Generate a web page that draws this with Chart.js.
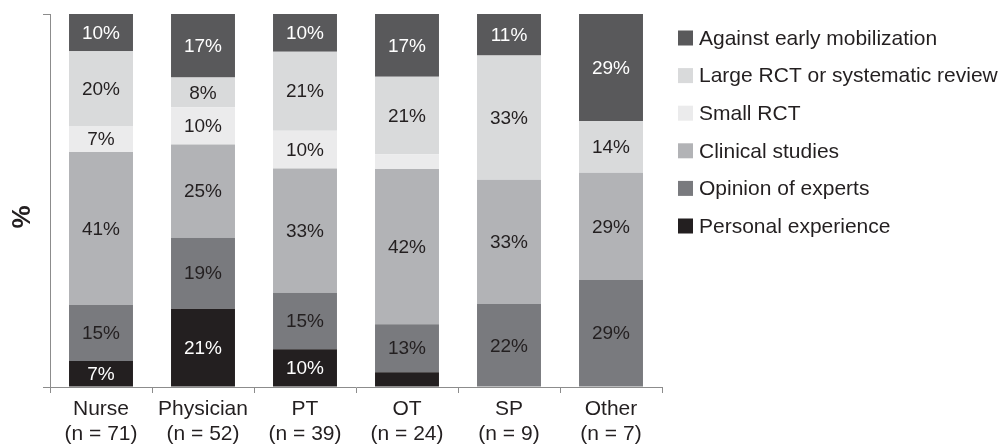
<!DOCTYPE html>
<html>
<head>
<meta charset="utf-8">
<script src="https://cdn.jsdelivr.net/npm/chart.js@4"></script>
<style>
  body { margin: 0; background: #fff; }
  #wrap { width: 1005px; height: 447px; position: relative; }
</style>
</head>
<body>
<div id="wrap"><canvas id="evidenceChart"></canvas></div>
<script>
// Categories (x axis), two lines each
const categories = [
    ['Nurse', '(n = 71)'],
    ['Physician', '(n = 52)'],
    ['PT', '(n = 39)'],
    ['OT', '(n = 24)'],
    ['SP', '(n = 9)'],
    ['Other', '(n = 7)']
];

// Percent values per series, bottom of the stack first
const personalExperience = [7, 21, 10, 4, 0, 0];
const opinionOfExperts   = [15, 19, 15, 13, 22, 29];
const clinicalStudies    = [41, 25, 33, 42, 33, 29];
const smallRct           = [7, 10, 10, 4, 0, 0];
const largeRct           = [20, 8, 21, 21, 33, 14];
const againstEarlyMob    = [10, 17, 10, 17, 11, 29];

const seriesNames = [
    'Personal experience',
    'Opinion of experts',
    'Clinical studies',
    'Small RCT',
    'Large RCT or systematic review',
    'Against early mobilization'
];
const seriesValues = [personalExperience, opinionOfExperts, clinicalStudies, smallRct, largeRct, againstEarlyMob];
const seriesColors = ['#231f20', '#797a7e', '#b2b3b6', '#ebebec', '#d9dadb', '#59595b'];
const labelColors  = ['#ffffff', '#231f20', '#231f20', '#231f20', '#231f20', '#ffffff'];

const FONT = '"Liberation Sans", Arial, sans-serif';
const TEXT = '#231f20';
const AXIS = '#8c8c8c';

// 100% stacked: scale every column to its own total
const totals = categories.map((c, i) => seriesValues.reduce((s, arr) => s + arr[i], 0));

const datasets = seriesNames.map((name, k) => ({
    label: name,
    data: seriesValues[k].map((v, i) => v / totals[i] * 100),
    raw: seriesValues[k],
    backgroundColor: seriesColors[k],
    textColor: labelColors[k],
    borderWidth: 0,
    barPercentage: 1,
    categoryPercentage: 0.627
}));

// Writes the percentage inside each segment
const segmentLabels = {
    id: 'segmentLabels',
    afterDatasetsDraw(chart) {
        const ctx = chart.ctx;
        ctx.save();
        ctx.font = '19px ' + FONT;
        ctx.textAlign = 'center';
        ctx.textBaseline = 'middle';
        chart.data.datasets.forEach((ds, k) => {
            const meta = chart.getDatasetMeta(k);
            meta.data.forEach((bar, i) => {
                const v = ds.raw[i];
                if (v < 5) return;
                ctx.fillStyle = ds.textColor;
                ctx.fillText(v + '%', bar.x, (bar.y + bar.base) / 2 + 1);
            });
        });
        ctx.restore();
    }
};

// Legend on the right, top series first
const sideLegend = {
    id: 'sideLegend',
    afterDraw(chart) {
        const ctx = chart.ctx;
        const list = chart.data.datasets.slice().reverse();
        ctx.save();
        ctx.font = '21px ' + FONT;
        ctx.textBaseline = 'middle';
        ctx.textAlign = 'left';
        list.forEach((ds, i) => {
            const y = 38 + i * 37.6;
            ctx.fillStyle = ds.backgroundColor;
            ctx.fillRect(678, y - 7.5, 15, 15);
            ctx.fillStyle = TEXT;
            ctx.fillText(ds.label, 699, y + 1);
        });
        ctx.restore();
    }
};

// Rotated "%" axis title
const axisTitle = {
    id: 'axisTitle',
    afterDraw(chart) {
        const ctx = chart.ctx;
        ctx.save();
        ctx.translate(23, 217);
        ctx.rotate(-Math.PI / 2);
        ctx.font = 'bold 26px ' + FONT;
        ctx.fillStyle = TEXT;
        ctx.textAlign = 'center';
        ctx.textBaseline = 'middle';
        ctx.fillText('%', 0, 0);
        ctx.restore();
    }
};

new Chart(document.getElementById('evidenceChart'), {
    type: 'bar',
    data: { labels: categories, datasets: datasets },
    options: {
        responsive: true,
        maintainAspectRatio: false,
        animation: false,
        layout: { padding: { top: 14, right: 343, left: 0, bottom: 0 } },
        plugins: {
            legend: { display: false },
            tooltip: { enabled: false }
        },
        scales: {
            x: {
                stacked: true,
                grid: { drawOnChartArea: false, color: AXIS, tickLength: 6, offset: true },
                border: { color: AXIS, width: 1 },
                ticks: {
                    color: TEXT,
                    padding: 3,
                    font: { family: FONT, size: 21, lineHeight: 1.22 },
                    maxRotation: 0,
                    autoSkip: false
                },
                afterFit(scale) { scale.height = 60; }
            },
            y: {
                stacked: true,
                min: 0,
                max: 100,
                grid: { drawOnChartArea: false, color: AXIS, tickLength: 7 },
                border: { color: AXIS, width: 1 },
                ticks: { display: false, stepSize: 100 },
                afterFit(scale) { scale.width = 50; }
            }
        }
    },
    plugins: [segmentLabels, sideLegend, axisTitle]
});
</script>
</body>
</html>
